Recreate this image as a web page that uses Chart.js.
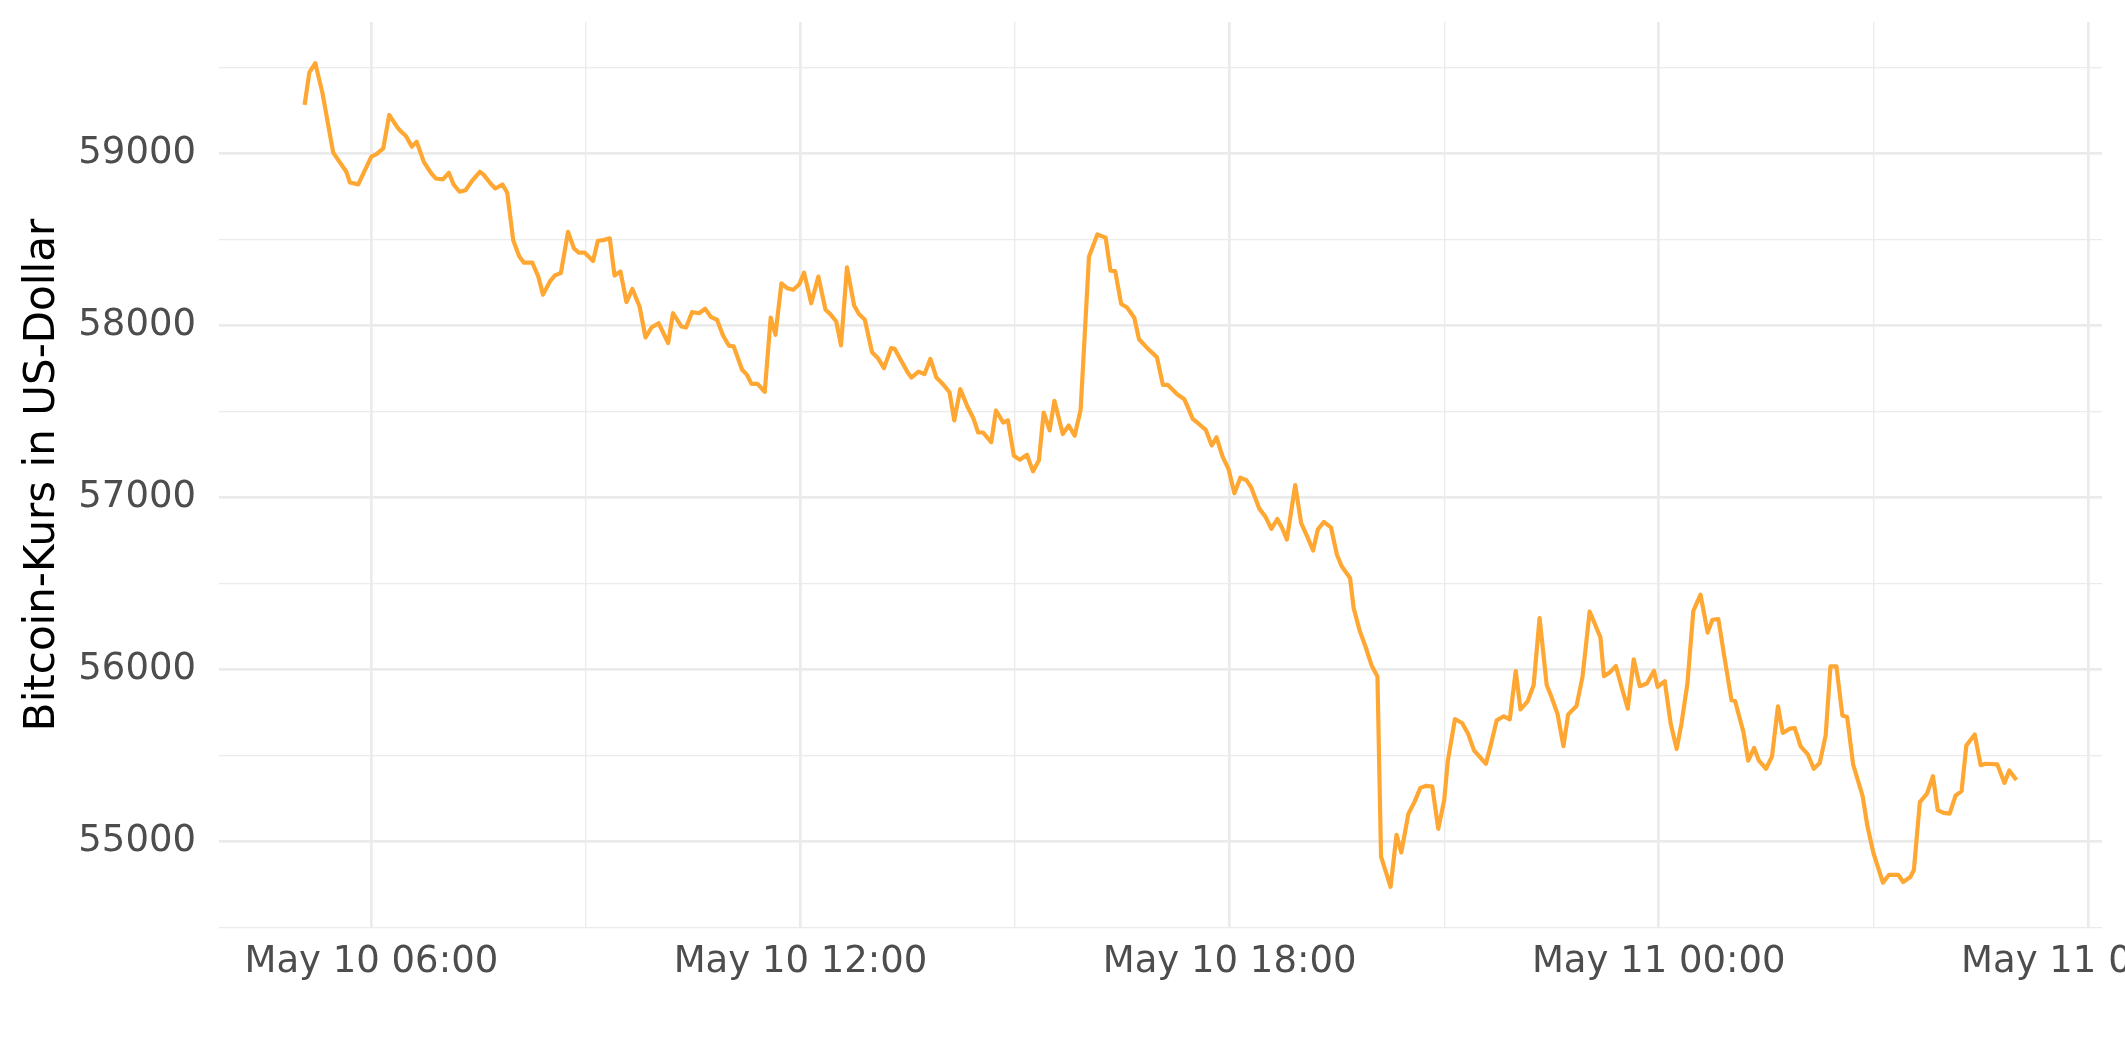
<!DOCTYPE html>
<html>
<head>
<meta charset="utf-8">
<title>Bitcoin-Kurs</title>
<script src="https://cdn.jsdelivr.net/npm/chart.js@4/dist/chart.umd.min.js"></script>
<style>
  html, body { margin: 0; padding: 0; background: #ffffff; }
  #wrap { width: 2125px; height: 1062px; }
</style>
</head>
<body>
<div id="wrap"><canvas id="priceChart" width="2125" height="1062"></canvas></div>
<script>
// Zeitpunkte in Minuten seit May 10 00:00 (5-Minuten-Kurse)
const minutes = [
  304, 308, 313, 319, 328, 339, 342, 349, 360, 364, 370, 375, 382, 385, 389, 394, 398, 404, 410, 414,
  420, 425, 429, 434, 439, 445, 451, 454, 460, 464, 470, 474, 479, 484, 488, 495, 500, 504, 510, 514,
  519, 525, 530, 534, 539, 546, 550, 555, 560, 564, 569, 574, 579, 585, 590, 595, 601, 609, 613, 620,
  624, 629, 635, 640, 645, 650, 655, 660, 664, 671, 675, 679, 684, 690, 695, 699, 704, 709, 714, 719,
  723, 729, 735, 741, 745, 750, 754, 759, 765, 769, 774, 780, 785, 790, 796, 799, 804, 810, 813, 819,
  824, 829, 834, 840, 845, 849, 854, 860, 865, 869, 873, 880, 884, 890, 894, 899, 904, 910, 915, 920,
  924, 929, 933, 940, 945, 950, 955, 962, 969, 976, 980, 984, 989, 994, 1000, 1004, 1011, 1019, 1024, 1028,
  1036, 1042, 1045, 1049, 1054, 1060, 1065, 1069, 1074, 1079, 1084, 1089, 1094, 1098, 1105, 1110, 1115, 1120, 1124, 1128,
  1135, 1140, 1145, 1150, 1154, 1159, 1165, 1170, 1174, 1181, 1184, 1189, 1194, 1199, 1204, 1207, 1215, 1220, 1224, 1230,
  1235, 1240, 1245, 1250, 1255, 1260, 1263, 1269, 1275, 1280, 1285, 1290, 1295, 1299, 1304, 1310, 1315, 1320, 1324, 1330,
  1335, 1340, 1346, 1350, 1355, 1360, 1364, 1371, 1376, 1382, 1391, 1394, 1399, 1404, 1409, 1414, 1419, 1424, 1430, 1436,
  1439, 1445, 1450, 1455, 1459, 1464, 1469, 1475, 1481, 1485, 1490, 1495, 1501, 1504, 1511, 1515, 1520, 1524, 1530, 1535,
  1540, 1544, 1550, 1554, 1559, 1565, 1570, 1575, 1580, 1584, 1589, 1594, 1598, 1603, 1611, 1615, 1620, 1628, 1633, 1641,
  1645, 1651, 1654, 1659, 1665, 1670, 1674, 1679, 1684, 1689, 1694, 1698, 1705, 1710, 1714, 1724, 1730, 1734, 1740
];

// Bitcoin-Kurs in USD
const prices = [
  59282, 59470, 59524, 59350, 59004, 58893, 58831, 58820, 58981, 58994, 59029, 59223, 59150, 59126, 59101, 59039, 59068, 58951, 58887, 58854,
  58849, 58887, 58819, 58777, 58786, 58845, 58893, 58878, 58825, 58796, 58819, 58771, 58495, 58402, 58365, 58365, 58285, 58179, 58258, 58291,
  58305, 58544, 58447, 58423, 58423, 58375, 58492, 58496, 58506, 58290, 58313, 58135, 58212, 58110, 57930, 57988, 58013, 57898, 58071, 57994,
  57988, 58077, 58071, 58097, 58048, 58033, 57942, 57882, 57878, 57743, 57714, 57660, 57660, 57614, 58046, 57946, 58245, 58216, 58207, 58239,
  58307, 58129, 58284, 58091, 58066, 58023, 57884, 58338, 58116, 58066, 58033, 57844, 57810, 57752, 57868, 57864, 57800, 57726, 57697, 57732,
  57717, 57806, 57697, 57655, 57612, 57448, 57630, 57529, 57461, 57378, 57378, 57322, 57506, 57436, 57448, 57243, 57220, 57249, 57152, 57216,
  57494, 57390, 57562, 57369, 57419, 57359, 57510, 58399, 58529, 58510, 58318, 58316, 58125, 58104, 58045, 57920, 57868, 57815, 57655, 57655,
  57600, 57571, 57524, 57457, 57429, 57393, 57303, 57350, 57239, 57167, 57025, 57115, 57101, 57060, 56934, 56889, 56818, 56875, 56823, 56756,
  57072, 56851, 56775, 56692, 56815, 56858, 56827, 56668, 56601, 56533, 56359, 56228, 56133, 56026, 55960, 54914, 54738, 55040, 54938, 55163,
  55230, 55313, 55325, 55320, 55075, 55242, 55468, 55712, 55690, 55628, 55531, 55492, 55453, 55560, 55705, 55729, 55711, 55992, 55769, 55816,
  55909, 56300, 55909, 55841, 55744, 55555, 55740, 55789, 55958, 56338, 56188, 55962, 55984, 56021, 55893, 55773, 56060, 55904, 55919, 55993,
  55900, 55933, 55685, 55539, 55685, 55919, 56342, 56436, 56215, 56290, 56293, 56075, 55822, 55818, 55637, 55471, 55545, 55471, 55424, 55496,
  55787, 55632, 55657, 55661, 55554, 55508, 55424, 55457, 55618, 56019, 56019, 55734, 55725, 55450, 55265, 55091, 54936, 54762, 54807, 54807,
  54766, 54795, 54836, 55230, 55279, 55381, 55184, 55168, 55163, 55269, 55294, 55559, 55623, 55445, 55453, 55449, 55342, 55414, 55358
];

// Achsenbeschriftungen
const xTickMinutes = [360, 720, 1080, 1440, 1800];
const xTickLabels = ['May 10 06:00', 'May 10 12:00', 'May 10 18:00', 'May 11 00:00', 'May 11 06:00'];
const yTicks = [55000, 56000, 57000, 58000, 59000];

// Bereich wie bei ggplot: 5% Rand an beiden Seiten
function expandRange(values) {
    const lo = Math.min(...values);
    const hi = Math.max(...values);
    const pad = (hi - lo) * 0.05;
    return [lo - pad, hi + pad];
}

const [xMin, xMax] = expandRange(minutes);
const [yMin, yMax] = expandRange(prices);

// Nebenlinien liegen jeweils zwischen den Hauptlinien
const xMinor = [];
for (let i = 0; i < xTickMinutes.length - 1; i++) {
    xMinor.push((xTickMinutes[i] + xTickMinutes[i + 1]) / 2);
}
const yMinor = [yTicks[0] - 500];
for (let i = 0; i < yTicks.length; i++) {
    yMinor.push(yTicks[i] + 500);
}

const gridColor = '#EBEBEB';
const majorWidth = 2.7;
const minorWidth = 1.35;
const tickFont = { family: 'DejaVu Sans', size: 37 };

const points = minutes.map((m, i) => ({ x: m, y: prices[i] }));

const ctx = document.getElementById('priceChart').getContext('2d');

new Chart(ctx, {
    type: 'line',
    data: {
        datasets: [{
            label: 'Bitcoin',
            data: points,
            borderColor: '#FFA733',
            borderWidth: 4.2,
            borderJoinStyle: 'round',
            pointRadius: 0,
            tension: 0,
            fill: false
        }]
    },
    options: {
        responsive: false,
        animation: false,
        layout: {
            padding: { top: 22, right: 23, left: 0, bottom: 0 }
        },
        plugins: {
            legend: { display: false },
            tooltip: { enabled: false }
        },
        scales: {
            x: {
                type: 'linear',
                min: xMin,
                max: xMax,
                border: { display: false },
                grid: {
                    color: gridColor,
                    drawTicks: false,
                    lineWidth: (c) => xTickMinutes.includes(c.tick.value) ? majorWidth : minorWidth
                },
                afterBuildTicks: (scale) => {
                    const all = xTickMinutes.concat(xMinor).filter(v => v >= xMin && v <= xMax);
                    all.sort((a, b) => a - b);
                    scale.ticks = all.map(v => ({ value: v }));
                },
                afterFit: (scale) => {
                    scale.height = 1062 - 928;
                    scale.paddingLeft = 0;
                    scale.paddingRight = 0;
                },
                ticks: {
                    autoSkip: false,
                    maxRotation: 0,
                    minRotation: 0,
                    padding: 12,
                    color: '#4D4D4D',
                    font: tickFont,
                    callback: function (value) {
                        const idx = xTickMinutes.indexOf(value);
                        return idx >= 0 ? xTickLabels[idx] : '';
                    }
                }
            },
            y: {
                type: 'linear',
                min: yMin,
                max: yMax,
                border: { display: false },
                grid: {
                    color: gridColor,
                    drawTicks: false,
                    lineWidth: (c) => yTicks.includes(c.tick.value) ? majorWidth : minorWidth
                },
                afterBuildTicks: (scale) => {
                    const all = yTicks.concat(yMinor).filter(v => v >= yMin && v <= yMax);
                    all.sort((a, b) => a - b);
                    scale.ticks = all.map(v => ({ value: v }));
                },
                afterFit: (scale) => {
                    scale.width = 219;
                    scale.paddingTop = 0;
                    scale.paddingBottom = 0;
                },
                ticks: {
                    autoSkip: false,
                    padding: 23,
                    color: '#4D4D4D',
                    font: tickFont,
                    callback: function (value) {
                        return yTicks.includes(value) ? String(value) : '';
                    }
                },
                title: {
                    display: true,
                    text: 'Bitcoin-Kurs in US-Dollar',
                    color: '#000000',
                    font: { family: 'DejaVu Sans', size: 42 },
                    padding: { top: 18, bottom: 0 }
                }
            }
        }
    }
});
</script>
</body>
</html>
